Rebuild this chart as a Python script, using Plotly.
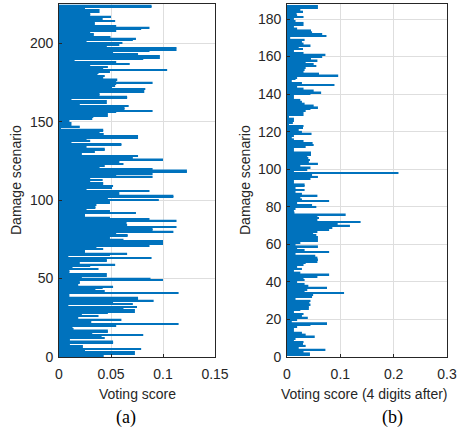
import plotly.graph_objects as go

# Panel (a): voting score per damage scenario (index 1 .. 224, bottom to top)
scores_a = [
    0.043, 0.073, 0.073, 0.025, 0.079, 0.023, 0.023, 0.0105, 0.052, 0.052,
    0.0105, 0.044, 0.041, 0.081, 0.032, 0.047, 0.047, 0.014, 0.013, 0.055,
    0.115, 0.031, 0.031, 0.060, 0.0185, 0.038, 0.022, 0.047, 0.073, 0.073,
    0.062, 0.075, 0.009, 0.071, 0.052, 0.091, 0.076, 0.076, 0.010, 0.010,
    0.115, 0.044, 0.035, 0.042, 0.052, 0.0185, 0.020, 0.020, 0.100, 0.088,
    0.022, 0.046, 0.046, 0.010, 0.010,
    0.038, 0.013, 0.030, 0.054, 0.020, 0.046, 0.046, 0.089, 0.009, 0.049,
    0.0655, 0.025, 0.025, 0.0425, 0.036, 0.087, 0.100, 0.100, 0.100, 0.062,
    0.049, 0.066, 0.066, 0.055, 0.110, 0.090, 0.090, 0.113, 0.0655, 0.065,
    0.065, 0.113, 0.087, 0.049, 0.025, 0.025, 0.074, 0.049, 0.0265, 0.035,
    0.035, 0.036, 0.049, 0.049, 0.096, 0.047, 0.110, 0.110, 0.058, 0.058,
    0.087, 0.0265, 0.051, 0.052, 0.0425, 0.0425, 0.030,
    0.042, 0.030, 0.090, 0.055, 0.090, 0.123, 0.123, 0.090, 0.039, 0.044,
    0.062, 0.058, 0.058, 0.100, 0.071, 0.076, 0.022, 0.022, 0.0345, 0.044,
    0.044, 0.0265, 0.060, 0.060, 0.012, 0.030, 0.0265, 0.076, 0.076, 0.043,
    0.039, 0.0425, 0.0425, 0.0016, 0.020, 0.012, 0.012, 0.010, 0.010, 0.032,
    0.033, 0.047, 0.047, 0.055, 0.090, 0.063, 0.063, 0.067, 0.020, 0.046,
    0.046, 0.012, 0.0655, 0.0655, 0.039, 0.039, 0.082, 0.082,
    0.083, 0.051, 0.054, 0.055, 0.090, 0.055, 0.056, 0.0425, 0.044, 0.037,
    0.038, 0.049, 0.104, 0.0425, 0.047, 0.030, 0.068, 0.055, 0.015, 0.081,
    0.097, 0.097, 0.076, 0.052, 0.087, 0.113, 0.113, 0.046, 0.058, 0.061,
    0.0265, 0.071, 0.074, 0.0495, 0.0335, 0.0335, 0.030, 0.055, 0.079, 0.087,
    0.055, 0.0345, 0.0345, 0.054, 0.042, 0.042, 0.050, 0.030, 0.030, 0.039,
    0.039, 0.025, 0.089, 0.089,
]

# Panel (b): voting score (4 digits after) per damage scenario (index 1 .. 186)
scores_b = [
    0.043, 0.043, 0.031, 0.072, 0.022, 0.035, 0.030, 0.031, 0.013, 0.016,
    0.052, 0.035, 0.028, 0.013, 0.013, 0.019, 0.044, 0.075, 0.009, 0.019,
    0.039, 0.028, 0.031, 0.013, 0.025, 0.041, 0.041, 0.044, 0.042, 0.044,
    0.016, 0.047, 0.049, 0.107, 0.033, 0.038, 0.075, 0.040, 0.033, 0.019,
    0.033, 0.031, 0.057, 0.079, 0.025, 0.013,
    0.028, 0.019, 0.031, 0.035, 0.057, 0.058, 0.057, 0.053, 0.016, 0.079,
    0.033, 0.019, 0.058, 0.016, 0.025, 0.058, 0.058, 0.058, 0.055, 0.049,
    0.057, 0.079, 0.085, 0.118, 0.095, 0.138, 0.057, 0.060, 0.057, 0.110,
    0.014, 0.013, 0.016, 0.055, 0.047, 0.019, 0.079, 0.028, 0.025, 0.057,
    0.028, 0.016, 0.033, 0.016, 0.033, 0.033, 0.013,
    0.013, 0.044, 0.058, 0.047, 0.209, 0.013, 0.038, 0.044, 0.025, 0.058,
    0.041, 0.043, 0.040, 0.038, 0.045, 0.045, 0.013, 0.013, 0.035, 0.050,
    0.048, 0.031, 0.013, 0.009, 0.013, 0.046, 0.028, 0.022, 0.030, 0.031,
    0.003, 0.011, 0.013, 0.013, 0.003, 0.031, 0.031, 0.035, 0.044, 0.058,
    0.050, 0.033, 0.028, 0.025, 0.013, 0.013, 0.044, 0.064,
    0.050, 0.031, 0.019, 0.089, 0.028, 0.009, 0.016, 0.019, 0.096, 0.060,
    0.031, 0.033, 0.035, 0.055, 0.050, 0.035, 0.057, 0.045, 0.066, 0.072,
    0.031, 0.013, 0.030, 0.022, 0.044, 0.031, 0.028, 0.033, 0.006, 0.074,
    0.066, 0.047, 0.045, 0.019, 0.013, 0.031, 0.031, 0.016, 0.013, 0.031,
    0.019, 0.018, 0.030, 0.025, 0.058, 0.058,
]

scen_a = list(range(1, len(scores_a) + 1))
scen_b = list(range(1, len(scores_b) + 1))

W, H = 458, 434
BLUE = "#0072BD"
FRAME = "#262626"
GRID = "#dedede"
SANS = "Liberation Sans, Arial, sans-serif"
SERIF = "Liberation Serif, Times New Roman, serif"

def px_x(p):
    return p / W

def px_y(p):
    return 1 - p / H

fig = go.Figure()
fig.add_trace(go.Bar(x=scores_a, y=scen_a, orientation="h", marker_color=BLUE,
                     marker_line_width=0, width=0.9, xaxis="x", yaxis="y",
                     showlegend=False))
fig.add_trace(go.Bar(x=scores_b, y=scen_b, orientation="h", marker_color=BLUE,
                     marker_line_width=0, width=0.9, xaxis="x2", yaxis="y2",
                     showlegend=False))

axis_common = dict(
    showline=True, mirror=True, linecolor=FRAME, linewidth=0.8,
    showgrid=True, gridcolor=GRID, gridwidth=1,
    ticks="inside", ticklen=3, tickcolor=FRAME,
    tickfont=dict(family=SANS, size=14, color=FRAME),
    zeroline=False, automargin=False, fixedrange=True,
)

fig.update_layout(
    width=W, height=H,
    margin=dict(l=0, r=0, t=0, b=0),
    paper_bgcolor="white", plot_bgcolor="white",
    xaxis=dict(domain=[px_x(59), px_x(215)], range=[0, 0.15], dtick=0.05,
               tick0=0, anchor="y", ticklabelstandoff=4, **axis_common),
    yaxis=dict(domain=[px_y(357), px_y(4)], range=[0, len(scores_a) + 1],
               dtick=50, tick0=0, anchor="x", ticklabelstandoff=2, **axis_common),
    xaxis2=dict(domain=[px_x(287), px_x(447)], range=[0, 0.3], dtick=0.1,
                tick0=0, anchor="y2", ticklabelstandoff=4, **axis_common),
    yaxis2=dict(domain=[px_y(357), px_y(4)], range=[0, len(scores_b) + 1],
                dtick=20, tick0=0, anchor="x2", ticklabelstandoff=2, **axis_common),
)

ann = [
    dict(text="Damage scenario", x=px_x(16), y=px_y(180), textangle=-90),
    dict(text="Damage scenario", x=px_x(245), y=px_y(180), textangle=-90),
    dict(text="Voting score", x=px_x(137), y=px_y(394)),
    dict(text="Voting score (4 digits after)", x=px_x(364), y=px_y(394)),
]
for a in ann:
    fig.add_annotation(xref="paper", yref="paper", showarrow=False,
                       xanchor="center", yanchor="middle",
                       font=dict(family=SANS, size=14, color=FRAME), **a)

for txt, xc in (("(a)", 126), ("(b)", 392)):
    fig.add_annotation(text=txt, xref="paper", yref="paper", x=px_x(xc),
                       y=px_y(417), showarrow=False, xanchor="center",
                       yanchor="middle",
                       font=dict(family=SERIF, size=18, color="black"))

fig.write_html("out.html")
